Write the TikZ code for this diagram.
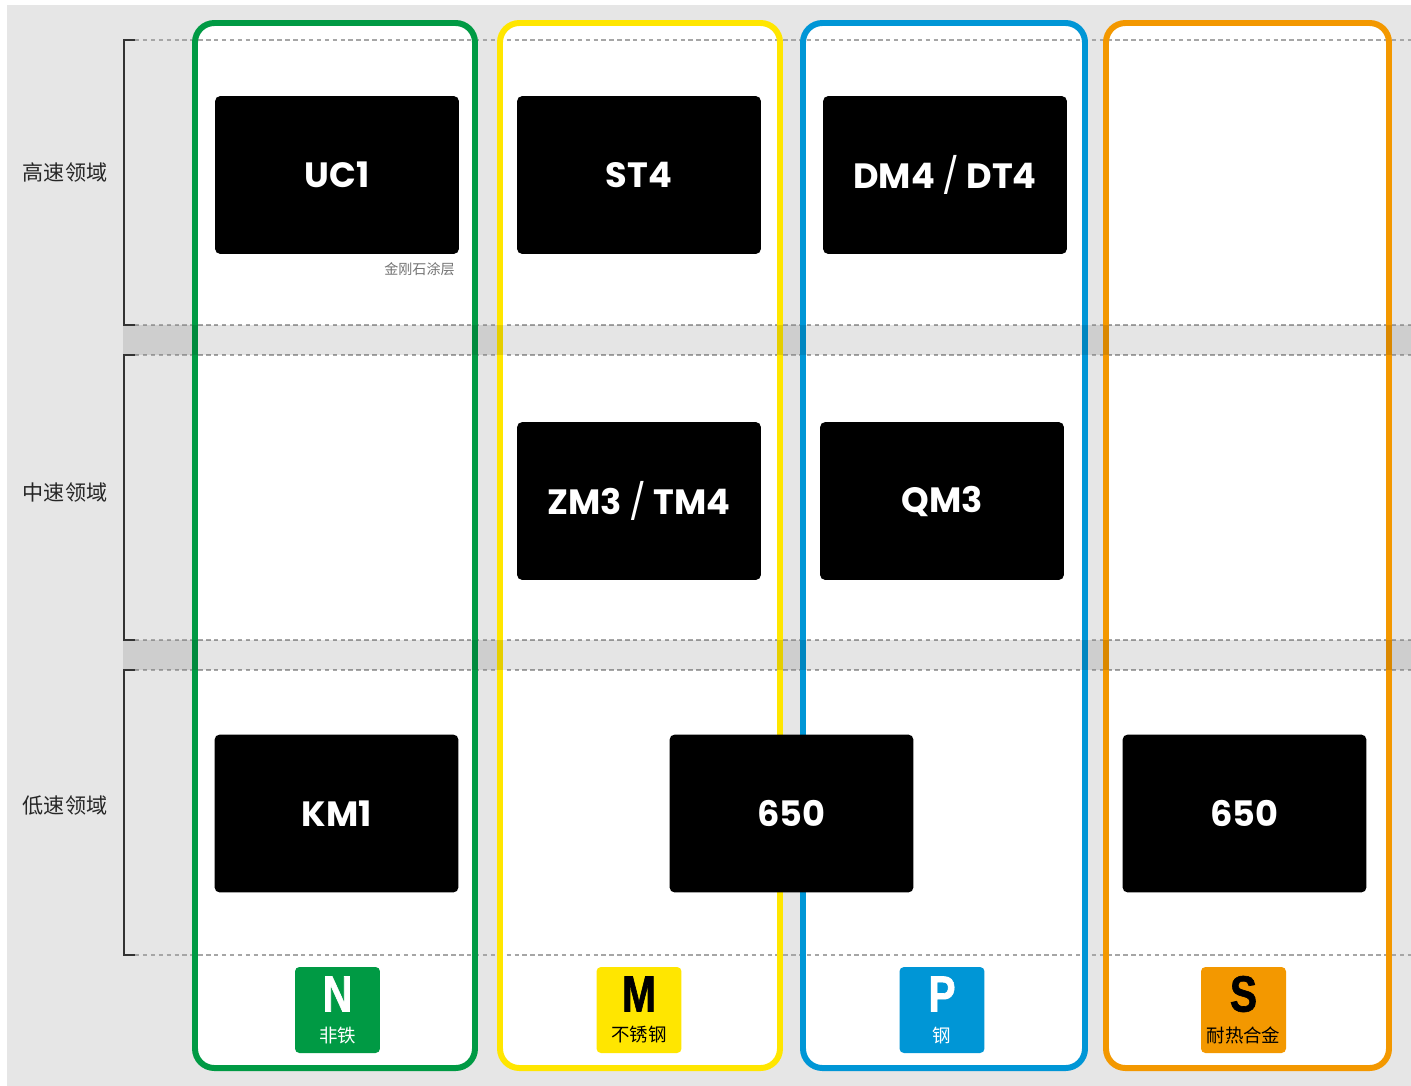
\documentclass[tikz,border=0pt]{standalone}
\usepackage{fontspec}
\setmainfont{Poppins}
\newfontfamily\cjk{Noto Sans CJK SC}
\newfontfamily\badge[FakeStretch=0.8, FakeBold=1.2]{Liberation Sans Bold}
\definecolor{isoN}{RGB}{0,154,68}
\definecolor{isoM}{RGB}{255,230,0}
\definecolor{isoP}{RGB}{0,150,214}
\definecolor{isoS}{RGB}{243,152,0}
\definecolor{panel}{RGB}{230,230,230}
\newcommand\sep{\ {\mdseries /}\ }
\tikzset{
  grade/.style={fill=black, rounded corners=3pt, minimum width=4.88cm, minimum height=3.16cm,
    inner sep=0pt, text=white, font=\bfseries\fontsize{20}{20}\selectfont},
  zone/.style={font=\cjk\fontsize{12}{12}\selectfont, text=black!85},
  tagbox/.style={rounded corners=2.5pt, minimum width=1.7cm, minimum height=1.72cm, inner sep=0pt},
  bracket/.style={draw=black!80, line width=0.85pt},
  rowline/.style={draw=black!35, line width=0.6pt, dash pattern=on 2.5pt off 2pt},
}
\begin{document}
\begin{tikzpicture}[x=0.02cm, y=-0.02cm]
\useasboundingbox (0,0) rectangle (1411,1086);
\fill[panel] (7,5) rectangle (1411,1086);
% material columns
\foreach \l/\r in {195/475, 500/780, 803/1085, 1106/1389}
  \fill[white, rounded corners=11pt] (\l,23) rectangle (\r,1068);
\foreach \y in {40,325,355,640,670,955}
  \draw[rowline] (135,\y) -- (1411,\y);
\foreach \l/\r/\col in {195/475/isoN, 500/780/isoM, 803/1085/isoP, 1106/1389/isoS}
  \draw[\col, line width=3.4pt, rounded corners=11pt] (\l,23) rectangle (\r,1068);
\fill[black, opacity=0.1] (123,325) rectangle (1411,355);
\fill[black, opacity=0.1] (123,640) rectangle (1411,670);
% speed ranges
\foreach \a/\b/\y/\lab in {40/325/172/高速领域, 355/640/493/中速领域, 670/955/806/低速领域}
{
  \draw[bracket] (135,\a) -- (124,\a) -- (124,\b) -- (135,\b);
  \node[zone] (zone\y) at (65,\y) {\lab};
}
% grades
\node[grade] (uc1) at (337,175) {UC1};
\node[grade] (st4) at (639,175) {ST4};
\node[grade] (dm4) at (945,175) {DM4\sep DT4};
\node[grade] (zm3) at (639,501) {ZM3\sep TM4};
\node[grade] (qm3) at (942,501) {QM3};
\node[grade] (km1) at (336.5,813.5) {KM1};
\node[grade] (p650) at (791.5,813.5) {650};
\node[grade] (s650) at (1244.5,813.5) {650};
\node[anchor=east, text=black!55, font=\cjk\fontsize{8}{8}\selectfont, inner sep=0pt] (coat) at (455,269) {金刚石涂层};
% ISO groups
\foreach \x/\col/\txt/\ltr/\sub in {337.5/isoN/white/N/非铁, 639/isoM/black/M/不锈钢, 942/isoP/white/P/钢, 1243.5/isoS/black/S/耐热合金}
{
  \node[tagbox, fill=\col] (tag\ltr) at (\x,1010) {};
  \node[text=\txt, font=\badge\fontsize{29}{29}\selectfont, inner sep=0pt] (let\ltr) at (\x,994) {\ltr};
  \node[text=\txt, font=\cjk\fontsize{10.5}{10.5}\selectfont, inner sep=0pt] (sub\ltr) at (\x,1035) {\sub};
}
\end{tikzpicture}
\end{document}
